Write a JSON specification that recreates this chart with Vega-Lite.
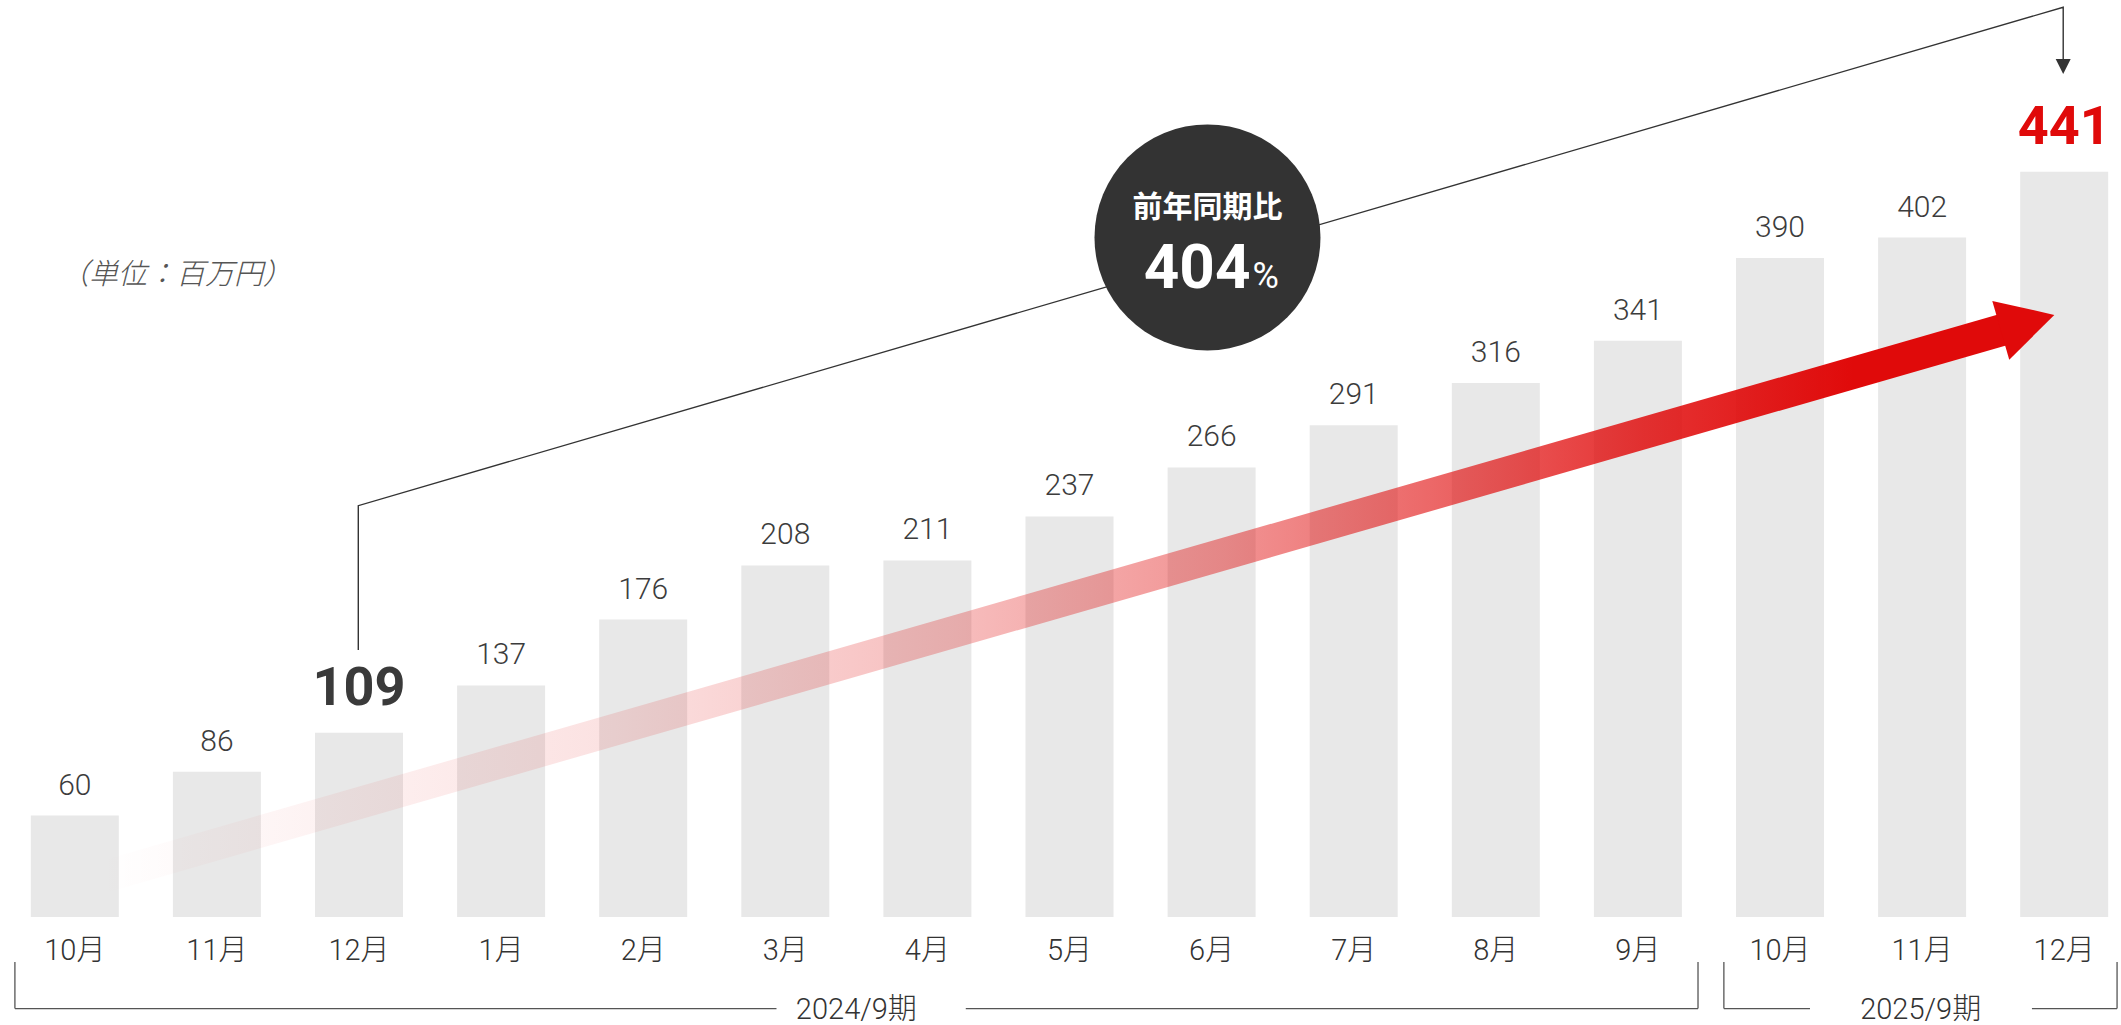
{
  "$schema": "https://vega.github.io/schema/vega-lite/v6.json",
  "width": 2121,
  "height": 1025,
  "autosize": {"type": "none"},
  "padding": 0,
  "background": "#ffffff",
  "config": {"view": {"stroke": null}, "scale": {"continuousPadding": 0}},
  "datasets": {
    "months": [
      {"i": 0, "month": "10月", "value": 60},
      {"i": 1, "month": "11月", "value": 86},
      {"i": 2, "month": "12月", "value": 109},
      {"i": 3, "month": "1月", "value": 137},
      {"i": 4, "month": "2月", "value": 176},
      {"i": 5, "month": "3月", "value": 208},
      {"i": 6, "month": "4月", "value": 211},
      {"i": 7, "month": "5月", "value": 237},
      {"i": 8, "month": "6月", "value": 266},
      {"i": 9, "month": "7月", "value": 291},
      {"i": 10, "month": "8月", "value": 316},
      {"i": 11, "month": "9月", "value": 341},
      {"i": 12, "month": "10月", "value": 390},
      {"i": 13, "month": "11月", "value": 402},
      {"i": 14, "month": "12月", "value": 441}
    ],
    "brackets": [
      {"x1": -0.4215, "y1": -26.6, "x2": -0.4215, "y2": -54.2},
      {"x1": -0.4215, "y1": -54.2, "x2": 4.938, "y2": -54.2},
      {"x1": 6.27, "y1": -54.2, "x2": 11.423, "y2": -54.2},
      {"x1": 11.423, "y1": -54.2, "x2": 11.423, "y2": -26.6},
      {"x1": 11.605, "y1": -26.6, "x2": 11.605, "y2": -54.2},
      {"x1": 11.605, "y1": -54.2, "x2": 12.211, "y2": -54.2},
      {"x1": 13.773, "y1": -54.2, "x2": 14.372, "y2": -54.2},
      {"x1": 14.372, "y1": -54.2, "x2": 14.372, "y2": -26.6}
    ],
    "periods": [
      {"px": 5.5, "py": -55.0, "label": "2024/9期"},
      {"px": 12.99, "py": -55.0, "label": "2025/9期"}
    ],
    "anno": [
      {"k": 0, "px": 1.995, "py": 158.0},
      {"k": 1, "px": 1.995, "py": 243.4},
      {"k": 2, "px": 13.993, "py": 538.3},
      {"k": 3, "px": 13.993, "py": 505.9}
    ]
  },
  "layer": [
    {
      "data": {"name": "months"},
      "mark": {"type": "bar", "width": 88, "color": "#e8e8e8"},
      "encoding": {
        "x": {"field": "i", "type": "quantitative", "scale": {"domain": [-0.5264, 14.3997], "nice": false, "zero": false, "padding": 0}, "axis": null},
        "y": {"field": "value", "type": "quantitative", "scale": {"domain": [-63.9, 542.6], "nice": false, "zero": false, "padding": 0}, "axis": null}
      }
    },
    {
      "data": {"values": [{"ax": 0.177, "ay": 23.2}, {"ax": 13.59, "ay": 348.0}]},
      "mark": {
        "type": "line",
        "strokeWidth": 32,
        "strokeCap": "butt",
        "stroke": {
          "gradient": "linear",
          "x1": 0, "y1": 0, "x2": 1, "y2": 0,
          "stops": [
            {"offset": 0, "color": "rgba(224,10,10,0)"},
            {"offset": 0.27, "color": "rgba(224,10,10,0.12)"},
            {"offset": 0.45, "color": "rgba(224,10,10,0.27)"},
            {"offset": 0.59, "color": "rgba(224,10,10,0.44)"},
            {"offset": 0.7, "color": "rgba(224,10,10,0.62)"},
            {"offset": 0.81, "color": "rgba(224,10,10,0.83)"},
            {"offset": 0.92, "color": "rgba(224,10,10,1)"},
            {"offset": 1, "color": "rgba(224,10,10,1)"}
          ]
        }
      },
      "encoding": {
        "x": {"field": "ax", "type": "quantitative", "axis": null},
        "y": {"field": "ay", "type": "quantitative", "axis": null}
      }
    },
    {
      "data": {"values": [{"hx": 13.742, "hy": 351.7}]},
      "mark": {"type": "point", "shape": "M 1 0 L -1 -1.1 L -1 1.1 Z", "size": 3102, "angle": 343.94, "filled": true, "fill": "#e00a0a", "opacity": 1, "strokeWidth": 0},
      "encoding": {
        "x": {"field": "hx", "type": "quantitative", "axis": null},
        "y": {"field": "hy", "type": "quantitative", "axis": null}
      }
    },
    {
      "data": {"name": "anno"},
      "mark": {"type": "line", "stroke": "#333333", "strokeWidth": 1.4},
      "encoding": {
        "x": {"field": "px", "type": "quantitative", "axis": null},
        "y": {"field": "py", "type": "quantitative", "axis": null},
        "order": {"field": "k", "type": "quantitative"}
      }
    },
    {
      "data": {"values": [{"tx": 13.993, "ty": 503.2}]},
      "mark": {"type": "point", "shape": "M 0 1 L -1 -1 L 1 -1 Z", "size": 225, "filled": true, "fill": "#333333", "opacity": 1, "strokeWidth": 0},
      "encoding": {
        "x": {"field": "tx", "type": "quantitative", "axis": null},
        "y": {"field": "ty", "type": "quantitative", "axis": null}
      }
    },
    {
      "data": {"values": [{"cx": 7.971, "cy": 402.1}]},
      "mark": {"type": "point", "shape": "circle", "size": 51076, "filled": true, "fill": "#333333", "opacity": 1, "strokeWidth": 0},
      "encoding": {
        "x": {"field": "cx", "type": "quantitative", "axis": null},
        "y": {"field": "cy", "type": "quantitative", "axis": null}
      }
    },
    {
      "data": {"values": [{"cx": 7.971, "cy": 419.5, "label": "前年同期比"}]},
      "mark": {"type": "text", "font": "'Noto Sans CJK JP'", "fontWeight": "bold", "fontSize": 30, "color": "#ffffff", "baseline": "middle", "align": "center"},
      "encoding": {
        "x": {"field": "cx", "type": "quantitative", "axis": null},
        "y": {"field": "cy", "type": "quantitative", "axis": null},
        "text": {"field": "label"}
      }
    },
    {
      "data": {"values": [{"cx": 7.971, "cy": 372.2, "label": "404"}]},
      "mark": {"type": "text", "font": "Roboto", "fontWeight": "bold", "fontSize": 62, "color": "#ffffff", "baseline": "alphabetic", "align": "right", "dx": 43},
      "encoding": {
        "x": {"field": "cx", "type": "quantitative", "axis": null},
        "y": {"field": "cy", "type": "quantitative", "axis": null},
        "text": {"field": "label"}
      }
    },
    {
      "data": {"values": [{"cx": 7.971, "cy": 372.2, "label": "%"}]},
      "mark": {"type": "text", "font": "Roboto", "fontWeight": "normal", "fontSize": 36, "color": "#ffffff", "baseline": "alphabetic", "align": "left", "dx": 45},
      "encoding": {
        "x": {"field": "cx", "type": "quantitative", "axis": null},
        "y": {"field": "cy", "type": "quantitative", "axis": null},
        "text": {"field": "label"}
      }
    },
    {
      "data": {"name": "months"},
      "transform": [{"filter": "datum.i != 2 && datum.i != 14"}],
      "mark": {"type": "text", "font": "Roboto", "fontWeight": 300, "fontSize": 30, "color": "#3c3c3c", "baseline": "middle", "align": "center", "dy": -30},
      "encoding": {
        "x": {"field": "i", "type": "quantitative", "axis": null},
        "y": {"field": "value", "type": "quantitative", "axis": null},
        "text": {"field": "value", "type": "quantitative"}
      }
    },
    {
      "data": {"name": "months"},
      "transform": [{"filter": "datum.i == 2 || datum.i == 14"}],
      "mark": {"type": "text", "font": "Roboto", "fontWeight": "bold", "fontSize": 54, "baseline": "middle", "align": "center", "dy": -44},
      "encoding": {
        "x": {"field": "i", "type": "quantitative", "axis": null},
        "y": {"field": "value", "type": "quantitative", "axis": null},
        "text": {"field": "value", "type": "quantitative"},
        "color": {"condition": {"test": "datum.i == 14", "value": "#e00a0a"}, "value": "#3a3a3a"}
      }
    },
    {
      "data": {"name": "months"},
      "mark": {"type": "text", "font": "Roboto, 'Noto Sans CJK JP'", "fontWeight": 300, "fontSize": 29, "color": "#333333", "baseline": "middle", "align": "center", "dy": 34},
      "encoding": {
        "x": {"field": "i", "type": "quantitative", "axis": null},
        "y": {"datum": 0, "type": "quantitative", "axis": null},
        "text": {"field": "month"}
      }
    },
    {
      "data": {"name": "brackets"},
      "mark": {"type": "rule", "stroke": "#555555", "strokeWidth": 1.3},
      "encoding": {
        "x": {"field": "x1", "type": "quantitative", "axis": null},
        "y": {"field": "y1", "type": "quantitative", "axis": null},
        "x2": {"field": "x2"},
        "y2": {"field": "y2"}
      }
    },
    {
      "data": {"name": "periods"},
      "mark": {"type": "text", "font": "Roboto, 'Noto Sans CJK JP'", "fontWeight": 300, "fontSize": 29, "color": "#333333", "baseline": "middle", "align": "center"},
      "encoding": {
        "x": {"field": "px", "type": "quantitative", "axis": null},
        "y": {"field": "py", "type": "quantitative", "axis": null},
        "text": {"field": "label"}
      }
    },
    {
      "data": {"values": [{"ux": 0.712, "uy": 379.9, "label": "（単位：百万円）"}]},
      "mark": {"type": "text", "font": "'Noto Sans CJK JP'", "fontStyle": "italic", "fontWeight": 300, "fontSize": 29, "color": "#555555", "baseline": "middle", "align": "center"},
      "encoding": {
        "x": {"field": "ux", "type": "quantitative", "axis": null},
        "y": {"field": "uy", "type": "quantitative", "axis": null},
        "text": {"field": "label"}
      }
    }
  ]
}
